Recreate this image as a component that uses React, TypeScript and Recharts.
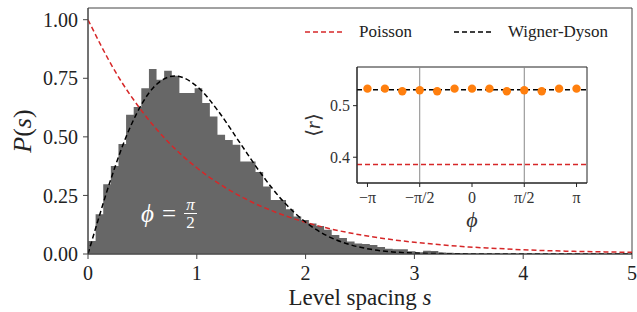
import {
  Area,
  ComposedChart,
  Label,
  Line,
  ReferenceArea,
  ReferenceLine,
  Scatter,
  XAxis,
  YAxis,
} from "recharts";

// histogram of level spacings, bins of width 0.07 starting at s = 0
const binWidth = 0.07;
const histValues = [
  0.056, 0.17, 0.298, 0.376, 0.469, 0.594, 0.627, 0.708, 0.79, 0.744,
  0.782, 0.761, 0.687, 0.687, 0.708, 0.644, 0.587, 0.509, 0.487, 0.466,
  0.395, 0.395, 0.35, 0.288, 0.231, 0.231, 0.191, 0.16, 0.145, 0.13,
  0.12, 0.103, 0.081, 0.068, 0.053, 0.045, 0.043, 0.038, 0.03, 0.022,
  0.02, 0.02, 0.012, 0.008, 0.014, 0.013, 0.006, 0.005, 0.004, 0.003,
  0.002, 0.002, 0.001, 0.001, 0.001,
];

// reference curves
const poissonS = [0, 0.25, 0.5, 0.75, 1, 1.25, 1.5, 1.75, 2, 2.25, 2.5, 2.75, 3, 3.25, 3.5, 3.75, 4, 4.25, 4.5, 4.75, 5];
const poissonP = [1, 0.779, 0.607, 0.472, 0.368, 0.287, 0.223, 0.174, 0.135, 0.105, 0.082, 0.064, 0.05, 0.039, 0.03, 0.024, 0.018, 0.014, 0.011, 0.009, 0.007];
const wdS = [0, 0.1, 0.2, 0.4, 0.6, 0.8, 1, 1.2, 1.4, 1.6, 1.8, 2, 2.2, 2.4, 2.6, 2.8, 3, 3.2, 3.4, 3.6, 4, 4.5, 5];
const wdP = [0, 0.156, 0.305, 0.554, 0.71, 0.76, 0.716, 0.608, 0.472, 0.337, 0.222, 0.136, 0.077, 0.041, 0.02, 0.009, 0.004, 0.002, 0.001, 0, 0, 0, 0];

const sTicks = [0, 1, 2, 3, 4, 5];
const pTicks = [0, 0.25, 0.5, 0.75, 1.0];

// inset: <r> against phi
const phiOverPi = [-1, -0.833, -0.667, -0.5, -0.333, -0.167, 0, 0.167, 0.333, 0.5, 0.667, 0.833, 1];
const rValues = [0.533, 0.533, 0.528, 0.53, 0.528, 0.533, 0.533, 0.533, 0.528, 0.53, 0.528, 0.533, 0.533];
const phiTicksOverPi = [-1, -0.5, 0, 0.5, 1];
const phiTickLabels = ["−π", "−π/2", "0", "π/2", "π"];
const rTicks = [0.4, 0.5];
const rGOE = 0.5307;
const rPoisson = 0.386;

const FONT = "'Liberation Serif', 'DejaVu Serif', serif";
const RED = "#d62728";

const histData = histValues
  .map((p, i) => ({ s: i * binWidth, p }))
  .concat([{ s: histValues.length * binWidth, p: 0 }]);
const poissonData = poissonS.map((s, i) => ({ s, p: poissonP[i] }));
const wdData = wdS.map((s, i) => ({ s, p: wdP[i] }));
const insetData = phiOverPi.map((f, i) => ({ phi: f * Math.PI, r: rValues[i] }));
const phiTicks = phiTicksOverPi.map((f) => f * Math.PI);

const legendItems = [
  { name: "Poisson", color: RED },
  { name: "Wigner-Dyson", color: "#000" },
];

const App = () => {
  return (
    <div style={{ position: "fixed", left: 0, top: 0, width: 637, height: 312, background: "#fff", fontFamily: FONT }}>
      <ComposedChart
        width={637}
        height={312}
        margin={{ top: 8, right: 5, left: 8, bottom: 0 }}
        style={{ fontFamily: FONT }}
      >
        <XAxis
          type="number"
          dataKey="s"
          domain={[0, 5]}
          ticks={sTicks}
          allowDataOverflow
          height={58}
          stroke="#444"
          tickSize={5}
          tickMargin={7}
          tick={{ fill: "#222", fontSize: 20, fontFamily: FONT }}
        >
          <Label
            content={() => (
              <text x={360} y={305} textAnchor="middle" fontFamily={FONT} fontSize={23} fill="#222">
                Level spacing <tspan fontStyle="italic">s</tspan>
              </text>
            )}
          />
        </XAxis>
        <YAxis
          type="number"
          domain={[0, 1.05]}
          ticks={pTicks}
          allowDataOverflow
          width={80}
          stroke="#444"
          tickSize={5}
          tickMargin={5}
          tickFormatter={(v: number) => v.toFixed(2)}
          tick={{ fill: "#222", fontSize: 20, fontFamily: FONT }}
        >
          <Label
            content={() => (
              <text
                x={31}
                y={131}
                transform="rotate(-90 31 131)"
                textAnchor="middle"
                fontFamily={FONT}
                fontSize={26}
                fill="#222"
              >
                <tspan fontStyle="italic">P</tspan>(<tspan fontStyle="italic">s</tspan>)
              </text>
            )}
          />
        </YAxis>
        <ReferenceArea x1={0} x2={5} y1={0} y2={1.05} fill="none" stroke="#444" strokeWidth={1} ifOverflow="visible" />
        <Area
          data={histData}
          dataKey="p"
          type="stepAfter"
          fill="#676767"
          fillOpacity={1}
          stroke="none"
          legendType="none"
          baseValue={0}
          isAnimationActive={false}
        />
        <Line
          data={poissonData}
          dataKey="p"
          name="Poisson"
          type="monotone"
          stroke={RED}
          strokeWidth={1.5}
          strokeDasharray="5 3"
          dot={false}
          isAnimationActive={false}
        />
        <Line
          data={wdData}
          dataKey="p"
          name="Wigner-Dyson"
          type="monotone"
          stroke="#000"
          strokeWidth={1.5}
          strokeDasharray="5 3"
          dot={false}
          isAnimationActive={false}
        />
      </ComposedChart>

      {/* legend */}
      <div
        style={{
          position: "absolute",
          left: 305,
          top: 22,
          display: "flex",
          alignItems: "center",
          fontSize: 17,
          color: "#222",
        }}
      >
        {legendItems.map((e, i) => (
          <span key={e.name} style={{ display: "inline-flex", alignItems: "center", marginLeft: i === 0 ? 0 : 42 }}>
            <svg width={40} height={10}>
              <line x1={0} x2={40} y1={5} y2={5} stroke={e.color} strokeWidth={1.5} strokeDasharray="5 3" />
            </svg>
            <span style={{ marginLeft: 14 }}>{e.name}</span>
          </span>
        ))}
      </div>

      {/* annotation inside the histogram */}
      <div
        style={{
          position: "absolute",
          left: 141,
          top: 198,
          display: "flex",
          alignItems: "center",
          color: "#fff",
          fontSize: 25,
        }}
      >
        <span style={{ fontStyle: "italic" }}>ϕ</span>
        <span style={{ margin: "0 8px" }}>=</span>
        <span style={{ display: "inline-flex", flexDirection: "column", alignItems: "center", fontSize: 17, lineHeight: "13px" }}>
          <span style={{ fontStyle: "italic" }}>π</span>
          <span style={{ borderTop: "1.2px solid #fff", width: 13, marginTop: 2, paddingTop: 2, textAlign: "center" }}>2</span>
        </span>
      </div>

      {/* inset */}
      <div style={{ position: "absolute", left: 290, top: 55 }}>
        <ComposedChart
          width={300}
          height={185}
          data={insetData}
          margin={{ top: 12, right: 3, left: 22, bottom: 10 }}
          style={{ fontFamily: FONT }}
        >
          <XAxis
            type="number"
            dataKey="phi"
            domain={[-3.456, 3.456]}
            ticks={phiTicks}
            allowDataOverflow
            height={47}
            stroke="#222"
            tickSize={4}
            tickMargin={5}
            tickFormatter={(v: number) => phiTickLabels[phiTicks.findIndex((t) => Math.abs(t - v) < 1e-6)]}
            tick={{ fill: "#333", fontSize: 16, fontFamily: FONT }}
          >
            <Label
              content={() => (
                <text x={182} y={172} textAnchor="middle" fontFamily={FONT} fontSize={22} fontStyle="italic" fill="#333">
                  ϕ
                </text>
              )}
            />
          </XAxis>
          <YAxis
            type="number"
            dataKey="r"
            domain={[0.35, 0.575]}
            ticks={rTicks}
            allowDataOverflow
            width={45}
            stroke="#222"
            tickSize={4}
            tickMargin={3}
            tick={{ fill: "#333", fontSize: 16, fontFamily: FONT }}
          >
            <Label
              content={() => (
                <text
                  x={30}
                  y={70}
                  transform="rotate(-90 30 70)"
                  textAnchor="middle"
                  fontFamily={FONT}
                  fontSize={20}
                  fill="#333"
                >
                  ⟨<tspan fontStyle="italic">r</tspan>⟩
                </text>
              )}
            />
          </YAxis>
          <ReferenceArea x1={-3.456} x2={3.456} y1={0.35} y2={0.575} fill="none" stroke="#222" strokeWidth={1} ifOverflow="visible" />
          <ReferenceLine x={phiTicks[1]} stroke="#888" strokeWidth={1} />
          <ReferenceLine x={phiTicks[3]} stroke="#888" strokeWidth={1} />
          <ReferenceLine y={rGOE} stroke="#000" strokeWidth={1.5} strokeDasharray="5 3" />
          <ReferenceLine y={rPoisson} stroke={RED} strokeWidth={1.5} strokeDasharray="5 3" />
          <Scatter
            dataKey="r"
            fill="#ff7f0e"
            isAnimationActive={false}
            shape={(p: any) => <circle cx={p.cx} cy={p.cy} r={4.2} fill="#ff7f0e" />}
          />
        </ComposedChart>
      </div>
    </div>
  );
};

export default App;
